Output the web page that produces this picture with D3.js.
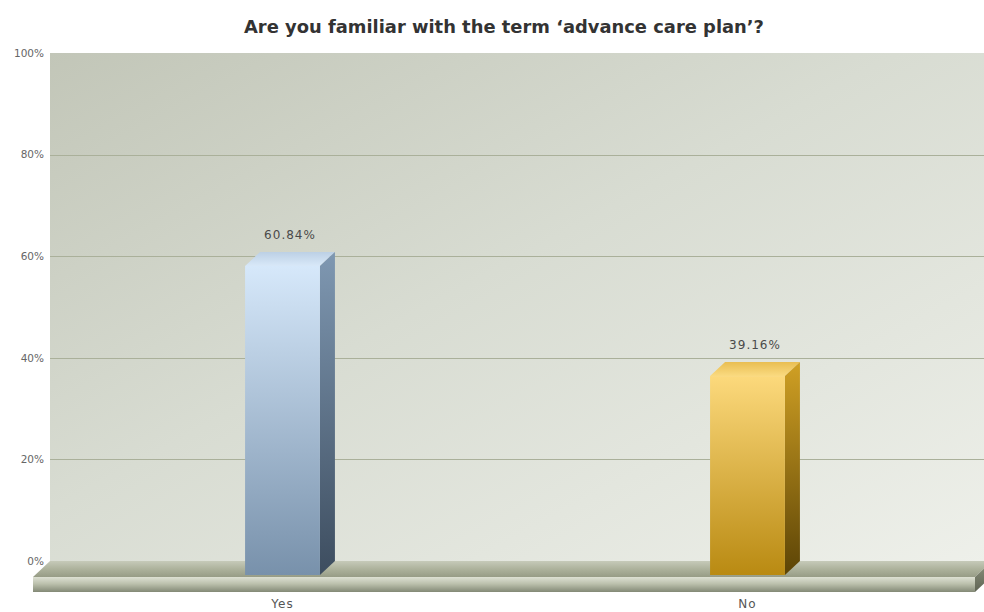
<!DOCTYPE html>
<html>
<head>
<meta charset="utf-8">
<script src="https://cdn.jsdelivr.net/npm/d3@7"></script>
<style>
  html, body { margin: 0; padding: 0; background: #ffffff; }
  svg { display: block; }
</style>
</head>
<body>
<svg id="chart" width="984" height="612"></svg>
<script>
// Survey answers and their shares (percent)
const categories = ["Yes", "No"];
const values = [60.84, 39.16];
const valueLabels = ["60.84%", "39.16%"];
const tickValues = [0, 20, 40, 60, 80, 100];
const tickLabels = ["0%", "20%", "40%", "60%", "80%", "100%"];
const title = "Are you familiar with the term \u2018advance care plan\u2019?";

const W = 984, H = 612;
const wallLeft = 50, wallRight = 992;
const DX = 15, DY = 14;          // bar depth offset (front face is shifted left/down)
const FDX = 17, FDY = 16;        // floor depth
const floorFrontH = 15;

const svg = d3.select("#chart");
const defs = svg.append("defs");

function linGrad(id, x1, y1, x2, y2, stops) {
  const g = defs.append("linearGradient").attr("id", id)
    .attr("x1", x1).attr("y1", y1).attr("x2", x2).attr("y2", y2);
  stops.forEach(s => g.append("stop").attr("offset", s[0]).attr("stop-color", s[1]));
}

linGrad("wallGrad", "0%", "0%", "100%", "100%", [[0, "#c2c6b8"], [0.45, "#d8dcd2"], [1, "#eef0ea"]]);
linGrad("floorTop", "0%", "0%", "0%", "100%", [[0, "#c6cab9"], [0.5, "#adb29c"], [1, "#979c86"]]);
linGrad("floorFront", "0%", "0%", "0%", "100%", [[0, "#dde0d3"], [0.45, "#bcc1ad"], [1, "#838976"]]);
linGrad("floorSide", "0%", "0%", "0%", "100%", [[0, "#8e937e"], [1, "#5f6454"]]);

// Per-bar colour sets: front, side, top
const palettes = [
  { front: ["#d6e8fa", "#7891ab"], side: ["#7f98b2", "#3d4d5f"], top: ["#bcd0e5", "#d8e8f8"] },
  { front: ["#fcd97c", "#b98a12"], side: ["#d0a024", "#5c4406"], top: ["#e9be52", "#fada80"] }
];
palettes.forEach((p, i) => {
  linGrad("barFront" + i, "0%", "0%", "0%", "100%", [[0, p.front[0]], [1, p.front[1]]]);
  linGrad("barSide" + i, "0%", "0%", "0%", "100%", [[0, p.side[0]], [1, p.side[1]]]);
  linGrad("barTop" + i, "0%", "0%", "0%", "100%", [[0, p.top[0]], [1, p.top[1]]]);
});

const y = d3.scaleLinear().domain([0, 100]).range([561, 53]);
const x = d3.scaleBand().domain(categories).range([50, 980]).padding(0);
const barW = x.bandwidth() * 0.161;

// Back wall
svg.append("rect")
  .attr("x", wallLeft).attr("y", y(100))
  .attr("width", wallRight - wallLeft).attr("height", y(0) - y(100))
  .attr("fill", "url(#wallGrad)");

// Grid lines on the wall
svg.append("g").selectAll("line")
  .data(tickValues.filter(t => t > 0 && t < 100))
  .join("line")
  .attr("x1", wallLeft).attr("x2", wallRight)
  .attr("y1", d => Math.round(y(d)) + 0.5).attr("y2", d => Math.round(y(d)) + 0.5)
  .attr("stroke", "#aab09a").attr("stroke-width", 1);

// Y axis labels
const yAxis = d3.axisLeft(y)
  .tickValues(tickValues)
  .tickFormat((d, i) => tickLabels[i])
  .tickSize(0).tickPadding(0);
const yg = svg.append("g").attr("transform", `translate(${wallLeft - 6},0)`).call(yAxis);
yg.select(".domain").remove();
yg.selectAll("text")
  .attr("font-family", "DejaVu Sans, Verdana, sans-serif")
  .attr("font-size", 10.5)
  .attr("fill", "#666");

// Floor slab
const fy0 = y(0);
const fxL = wallLeft, fxR = wallRight;
svg.append("polygon")
  .attr("points", [[fxL, fy0], [fxR, fy0], [fxR - FDX, fy0 + FDY], [fxL - FDX, fy0 + FDY]].join(" "))
  .attr("fill", "url(#floorTop)");
svg.append("rect")
  .attr("x", fxL - FDX).attr("y", fy0 + FDY)
  .attr("width", fxR - fxL).attr("height", floorFrontH)
  .attr("fill", "url(#floorFront)");
svg.append("polygon")
  .attr("points", [[fxR - FDX, fy0 + FDY], [fxR, fy0], [fxR, fy0 + floorFrontH], [fxR - FDX, fy0 + FDY + floorFrontH]].join(" "))
  .attr("fill", "url(#floorSide)");

// 3D bars
const bars = svg.append("g").selectAll("g")
  .data(categories.map((c, i) => ({ c, v: values[i], i })))
  .join("g");

bars.each(function (d) {
  const g = d3.select(this);
  const cx = x(d.c) + x.bandwidth() / 2;
  const fl = cx - barW / 2, fr = cx + barW / 2;
  const ft = y(d.v) + DY, fb = y(0) + DY;
  // top face
  g.append("polygon")
    .attr("points", [[fl, ft], [fl + DX, ft - DY], [fr + DX, ft - DY], [fr, ft]].join(" "))
    .attr("fill", `url(#barTop${d.i})`);
  // side face
  g.append("polygon")
    .attr("points", [[fr, ft], [fr + DX, ft - DY], [fr + DX, fb - DY], [fr, fb]].join(" "))
    .attr("fill", `url(#barSide${d.i})`);
  // front face
  g.append("rect")
    .attr("x", fl).attr("y", ft).attr("width", barW).attr("height", fb - ft)
    .attr("fill", `url(#barFront${d.i})`);
  // value label
  g.append("text")
    .attr("x", cx + DX / 2).attr("y", y(d.v) - 13)
    .attr("text-anchor", "middle")
    .attr("font-family", "DejaVu Sans, Verdana, sans-serif")
    .attr("font-size", 12).attr("letter-spacing", 1)
    .attr("fill", "#4a4a4a")
    .text(valueLabels[d.i]);
});

// Category labels
svg.append("g").selectAll("text")
  .data(categories)
  .join("text")
  .attr("x", d => x(d) + x.bandwidth() / 2)
  .attr("y", 608)
  .attr("text-anchor", "middle")
  .attr("font-family", "DejaVu Sans, Verdana, sans-serif")
  .attr("font-size", 12).attr("letter-spacing", 1)
  .attr("fill", "#555")
  .text(d => d);

// Title
svg.append("text")
  .attr("x", 504).attr("y", 33)
  .attr("text-anchor", "middle")
  .attr("font-family", "DejaVu Sans, Verdana, sans-serif")
  .attr("font-weight", "bold")
  .attr("font-size", 17)
  .attr("textLength", 520)
  .attr("lengthAdjust", "spacingAndGlyphs")
  .attr("fill", "#333")
  .text(title);
</script>
</body>
</html>
